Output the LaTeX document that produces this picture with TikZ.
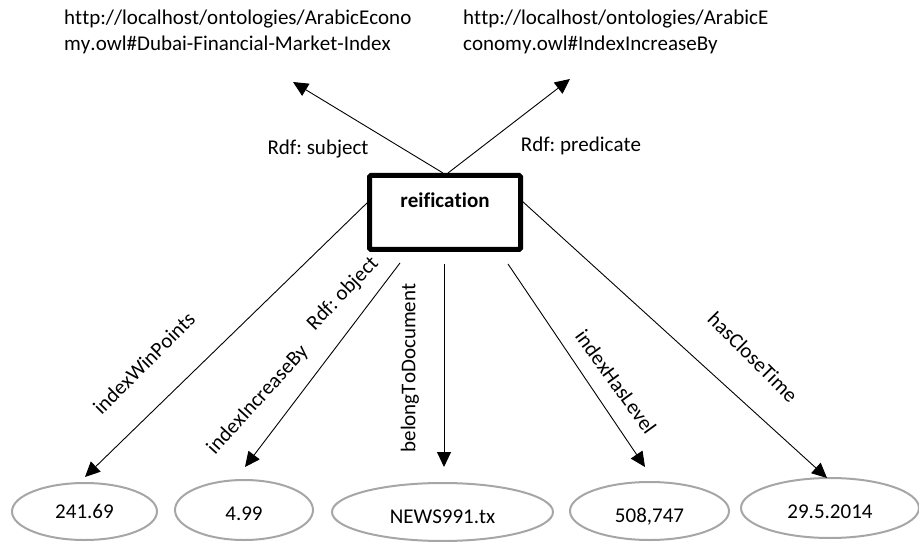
\documentclass[tikz,border=0pt]{standalone}
\usepackage{fontspec}
\setmainfont{Carlito}[Ligatures=NoCommon, Kerning=Off]
\usetikzlibrary{arrows.meta,shapes.geometric}
\definecolor{valgray}{HTML}{A6A6A6}
\frenchspacing
\begin{document}
\begin{tikzpicture}[x=1bp,y=-1bp,
  txt/.style={font=\fontsize{21bp}{25bp}\selectfont, inner sep=0pt},
  reifbox/.style={draw, line width=5bp, minimum width=151bp, minimum height=74bp,
    inner sep=0pt, rounded corners=1.5bp},
  val/.style={ellipse, draw=valgray, line width=2bp, inner sep=0pt},
  link/.style={line width=0.9bp, -{Triangle[length=15bp,width=14bp]}}]
\useasboundingbox (0,0) rectangle (919,542);

% resource URIs at the top
\node[txt, anchor=base west] (subj1) at (64,25) {http://localhost/ontologies/ArabicEcono};
\node[txt, anchor=base west] (subj2) at (64,51) {my.owl\#Dubai-Financial-Market-Index};
\node[txt, anchor=base west] (pred1) at (463,25) {http://localhost/ontologies/ArabicE};
\node[txt, anchor=base west] (pred2) at (463,51) {conomy.owl\#IndexIncreaseBy};

% reified statement
\node[reifbox] (r) at (445,212.5) {};
\node[txt, font=\fontsize{21bp}{25bp}\selectfont\bfseries, anchor=base] (rt) at (445,208) {reification};

% literal values
\node[val, minimum width=145bp, minimum height=57bp] (e1) at (84.5,511.5) {};
\node[val, minimum width=138bp, minimum height=60bp] (e2) at (244,510) {};
\node[val, minimum width=221bp, minimum height=58bp] (e3) at (442.5,512) {};
\node[val, minimum width=159bp, minimum height=58bp] (e4) at (649.5,511) {};
\node[val, minimum width=178bp, minimum height=60bp] (e5) at (830,508) {};
\node[txt, anchor=base] (v1) at (84.5,518) {241.69};
\node[txt, anchor=base] (v2) at (244,520) {4.99};
\node[txt, anchor=base] (v3) at (442.5,523) {NEWS991.tx};
\node[txt, anchor=base] (v4) at (649.5,522) {508,747};
\node[txt, anchor=base] (v5) at (830,518) {29.5.2014};

% connector end points
\coordinate (su) at (443,173);
\coordinate (pu) at (448,173);
\coordinate (tsu) at (293,82);
\coordinate (tpu) at (570,79);
\coordinate (s1) at (368,202);
\coordinate (s2) at (400,263);
\coordinate (s3) at (444,264);
\coordinate (s4) at (508,264);
\coordinate (s5) at (522,201);
\coordinate (t1) at (85,477);
\coordinate (t2) at (245,467);
\coordinate (t3) at (444,467);
\coordinate (t4) at (645,467);
\coordinate (t5) at (827,478);

\draw[link] (su) -- (tsu);
\draw[link] (pu) -- (tpu);
\draw[link] (s1) -- (t1);
\draw[link] (s2) -- (t2);
\draw[link] (s3) -- (t3);
\draw[link] (s4) -- (t4);
\draw[link] (s5) -- (t5);

% property labels
\node[txt, anchor=base] (lsu) at (318,155) {Rdf: subject};
\node[txt, anchor=base] (lpu) at (581,152) {Rdf: predicate};
\node[txt, rotate=45] (l1) at (144,363) {indexWinPoints};
\node[txt, rotate=47.5] (l2) at (258,400) {indexIncreaseBy};
\node[txt, rotate=46] (l2b) at (343,294) {Rdf: object};
\node[txt, rotate=90] (l3) at (410,368) {belongToDocument};
\node[txt, rotate=-54] (l4) at (616,382) {indexHasLevel};
\node[txt, rotate=-45] (l5) at (753,357) {hasCloseTime};
\end{tikzpicture}
\end{document}
